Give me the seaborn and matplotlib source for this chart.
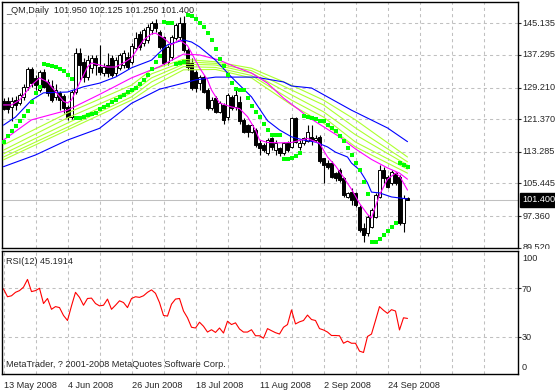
import matplotlib
matplotlib.use("Agg")
import numpy as np
import seaborn as sns
from matplotlib import pyplot as plt
from matplotlib.transforms import Bbox

sns.set_style("white")
plt.rcParams['font.family'] = ['Liberation Sans', 'DejaVu Sans']

# daily bars, 13 May 2008 .. 1 Oct 2008 (bar index 0..101)
opens = [125.9, 125.8, 124.5, 126.1, 125.3, 126.8, 129.4, 133.7, 131.5, 128.6,
         133.1, 130.7, 129.6, 126.9, 127.8, 127.0, 124.5, 122.0, 128.0, 137.7,
         135.6, 131.9, 134.0, 136.5, 134.4, 132.7, 134.8, 136.5, 132.7, 134.0,
         134.8, 136.9, 135.5, 139.0, 142.6, 140.2, 141.0, 143.5, 145.3, 143.0,
         141.8, 135.6, 136.9, 141.4, 141.8, 145.1, 138.5, 135.2, 133.1, 130.3,
         131.9, 128.6, 124.1, 126.5, 123.2, 124.9, 122.0, 126.9, 124.5, 125.7,
         121.2, 119.9, 118.3, 118.7, 115.4, 115.0, 112.9, 116.6, 113.7, 114.2,
         112.9, 115.4, 114.6, 121.6, 114.6, 115.4, 116.0, 117.0, 116.2, 117.0,
         111.7, 110.4, 110.4, 108.0, 108.8, 106.7, 102.2, 103.4, 103.0, 99.7,
         94.3, 93.1, 94.7, 97.2, 102.2, 108.8, 107.1, 105.5, 108.0, 107.1,
         95.6, 101.95]
highs = [126.6, 126.8, 126.9, 127.0, 127.9, 130.0, 134.4, 134.3, 132.3, 133.6,
         133.9, 131.3, 131.0, 130.0, 128.4, 127.5, 125.0, 128.6, 138.9, 139.0,
         136.5, 137.3, 137.3, 137.3, 139.8, 135.2, 137.7, 137.3, 136.9, 137.7,
         138.5, 138.1, 140.3, 143.0, 143.1, 144.0, 145.0, 145.8, 146.1, 143.5,
         141.9, 139.8, 142.3, 145.2, 146.8, 146.9, 139.0, 136.5, 133.6, 132.3,
         132.3, 129.0, 126.9, 127.0, 126.0, 125.3, 127.8, 127.4, 129.0, 127.0,
         121.6, 120.3, 120.3, 119.2, 116.2, 115.4, 116.6, 117.0, 116.2, 114.6,
         115.8, 116.0, 122.0, 122.0, 116.2, 117.0, 119.9, 119.9, 117.4, 117.4,
         111.7, 111.3, 110.9, 108.4, 109.2, 107.1, 103.4, 104.2, 103.4, 100.1,
         95.6, 97.6, 99.3, 103.0, 110.0, 109.6, 107.5, 108.8, 108.4, 107.5,
         102.6, 102.125]
lows = [123.6, 122.8, 120.8, 123.6, 124.8, 126.1, 128.6, 129.4, 128.6, 128.2,
        129.0, 127.0, 125.7, 126.2, 123.6, 123.0, 121.1, 121.3, 127.5, 131.1,
        130.7, 131.0, 132.7, 132.3, 132.3, 132.0, 131.9, 131.9, 132.0, 133.6,
        134.0, 133.9, 135.0, 138.5, 138.5, 139.5, 140.3, 142.6, 143.0, 138.7,
        134.8, 134.8, 136.0, 141.0, 141.0, 138.0, 133.6, 128.6, 128.2, 128.6,
        127.8, 123.6, 123.6, 122.8, 122.8, 120.3, 121.2, 123.6, 123.6, 120.3,
        117.9, 117.0, 117.9, 114.6, 112.5, 113.3, 112.5, 113.7, 112.5, 112.3,
        112.5, 113.3, 114.2, 115.4, 113.7, 115.0, 115.8, 115.0, 115.8, 110.4,
        105.5, 109.0, 106.7, 106.0, 105.9, 102.2, 101.8, 100.1, 99.7, 93.5,
        90.9, 92.3, 94.3, 96.8, 101.8, 105.5, 104.2, 105.0, 105.0, 95.2,
        93.5, 101.25]
closes = [123.8, 123.9, 126.0, 124.9, 127.3, 129.3, 133.9, 130.3, 129.8, 133.1,
          129.4, 127.8, 126.1, 128.6, 126.1, 124.1, 122.0, 128.2, 137.7, 134.8,
          131.9, 136.0, 136.6, 134.8, 133.1, 134.4, 132.7, 132.3, 136.0, 137.3,
          137.7, 134.4, 139.5, 141.5, 139.3, 143.5, 144.3, 145.3, 143.9, 139.3,
          135.2, 139.3, 141.8, 144.7, 145.1, 138.5, 134.4, 129.0, 129.0, 131.9,
          128.2, 124.1, 126.1, 123.2, 125.3, 121.2, 127.4, 124.1, 127.4, 120.8,
          118.3, 118.3, 119.9, 115.0, 114.2, 113.7, 116.2, 114.6, 115.4, 112.9,
          115.4, 113.7, 121.6, 115.8, 115.4, 116.6, 118.3, 116.2, 116.6, 110.9,
          110.0, 109.6, 107.1, 106.7, 106.3, 102.6, 103.0, 101.4, 100.1, 93.9,
          92.7, 97.2, 98.9, 102.6, 108.8, 106.7, 104.6, 108.4, 105.5, 95.6,
          101.8, 101.4]

# parabolic SAR
sar = [115.8, 117.2, 118.4, 119.8, 120.9, 122.2, 123.5, 125.6, 127.8, 129.4,
       135.0, 134.8, 134.6, 134.3, 133.8, 133.3, 132.3, 131.3, 121.6, 121.6,
       122.0, 122.4, 122.6, 123.0, 123.8, 124.3, 124.9, 125.7, 126.1, 126.8,
       127.4, 128.2, 128.6, 129.2, 130.2, 131.2, 132.3, 133.7, 135.6, 137.1,
       145.5, 145.3, 145.3, 135.0, 135.2, 135.6, 147.2, 146.9, 146.1, 145.1,
       144.1, 142.8, 141.0, 138.7, 136.4, 134.5, 132.3, 130.3, 128.8, 128.6,
       128.6, 126.5, 124.6, 123.2, 122.0, 120.2, 118.7, 117.5, 117.5, 117.5,
       111.5, 111.5, 111.8, 112.2, 112.9, 122.2, 121.8, 121.6, 121.4, 121.0,
       120.8, 119.9, 119.2, 118.4, 117.2, 115.9, 114.2, 112.5, 110.4, 108.8,
       105.9, 102.8, 90.9, 91.0, 91.6, 92.7, 93.7, 94.6, 95.7, 110.6,
       110.1, 109.4]

# moving averages at sample bars
ma_fast_x = [0, 2, 4, 7, 9, 11, 13, 15, 16, 17, 19, 21, 22, 24, 26, 28, 30, 32, 35, 37,
             38, 40, 42, 44, 46, 47, 49, 51, 52, 54, 57, 59, 61, 63, 64, 66, 69, 72, 76, 79,
             81, 83, 85, 87, 89, 91, 92, 94, 96, 98, 99, 101]
ma_fast_y = [124.9, 124.9, 126.1, 129.8, 131.6, 130.6, 128.2, 125.8, 125.4, 126.1, 130.3,
             134.3, 135.3, 134.8, 134.3, 134.3, 135.3, 136.6, 141.0, 142.5, 142.7, 141.5,
             139.8, 141.0, 139.6, 137.8, 134.1, 131.1, 128.6, 125.4, 124.4, 124.0, 122.0,
             118.7, 116.2, 115.6, 115.5, 115.6, 116.6, 115.4, 112.0, 109.8, 107.0, 104.0,
             100.5, 97.8, 96.9, 102.6, 106.5, 108.0, 107.3, 103.8]

blue_fast_x = [0, 3, 7, 10, 16, 20, 24, 28, 32, 37, 41, 45, 47, 49, 53, 57, 62, 66, 69, 72,
               75, 78, 81, 83, 86, 87, 89, 91, 92, 94, 97, 101]
blue_fast_y = [119.9, 121.9, 126.1, 127.9, 128.1, 129.4, 130.3, 131.8, 134.1, 136.0, 139.8,
               141.0, 140.5, 139.3, 136.0, 131.8, 126.9, 121.0, 118.7, 117.0, 116.2, 115.7,
               114.5, 113.2, 112.0, 110.5, 108.8, 105.6, 103.3, 103.1, 102.1, 101.6]

ma_slow_x = [0, 7, 16, 24, 32, 39, 45, 49, 54, 58, 62, 66, 70, 72, 74, 76, 80, 84, 88, 92,
             96, 99, 101]
ma_slow_y = [116.2, 121.2, 123.6, 127.5, 131.6, 134.4, 137.5, 137.3, 136.0, 134.3, 132.8,
             130.3, 126.6, 125.1, 123.6, 122.0, 119.5, 117.0, 114.0, 111.4, 109.3, 108.0,
             106.5]

blue_slow_x = [0, 8, 16, 24, 32, 39, 45, 48, 53, 58, 63, 70, 72, 77, 87, 96, 101]
blue_slow_y = [109.6, 112.5, 116.2, 119.1, 125.3, 128.8, 130.3, 131.1, 131.8, 131.8, 131.8,
               130.6, 129.6, 129.1, 123.6, 119.2, 115.8]

ribbon_x = [0, 16, 32, 37, 45, 53, 62, 72, 80, 88, 101]
ribbon_1 = [115.0, 122.9, 129.8, 133.6, 136.2, 135.6, 134.0, 129.8, 126.1, 121.2, 112.0]
ribbon_2 = [113.7, 121.7, 128.6, 132.6, 135.6, 135.2, 133.4, 128.6, 124.9, 119.2, 110.8]
ribbon_3 = [112.8, 120.4, 127.9, 131.6, 135.0, 134.8, 132.8, 127.4, 123.2, 117.5, 110.0]
ribbon_4 = [112.0, 119.4, 126.9, 130.6, 134.4, 134.2, 132.2, 126.1, 121.9, 115.7, 109.0]
ribbon_5 = [111.3, 118.7, 126.1, 129.4, 133.6, 133.7, 131.6, 124.9, 120.4, 114.5, 108.0]

rsi = [69.2, 62.8, 63.6, 66.4, 67.8, 70.6, 76.9, 67.0, 67.8, 69.7,
       57.3, 61.4, 52.6, 54.8, 54.0, 47.6, 43.5, 55.4, 66.4, 62.3,
       55.9, 61.4, 61.7, 57.3, 55.4, 55.9, 60.9, 52.6, 55.9, 59.5,
       58.1, 54.0, 61.4, 62.8, 62.3, 63.6, 66.4, 68.4, 65.6, 58.1,
       47.6, 47.1, 56.8, 60.9, 61.4, 51.2, 45.7, 38.0, 37.4, 42.1,
       38.8, 34.1, 36.0, 33.8, 37.4, 33.3, 42.9, 40.2, 41.6, 36.6,
       34.1, 34.1, 36.0, 31.1, 31.1, 29.1, 36.9, 35.2, 33.6, 32.5,
       38.0, 40.2, 52.1, 40.7, 42.4, 43.5, 47.9, 44.3, 43.5, 36.9,
       35.8, 34.1, 31.3, 31.3, 31.1, 25.0, 26.7, 25.0, 25.0, 18.6,
       17.5, 30.5, 32.5, 43.5, 54.8, 51.8, 49.3, 52.3, 51.2, 35.8,
       45.7, 45.19]

price_ticks = [145.135, 137.295, 129.210, 121.370, 113.285, 105.445, 97.360, 89.520]
date_pos = [0, 16, 32, 48, 64, 80, 96]
date_labels = ['13 May 2008', '4 Jun 2008', '26 Jun 2008', '18 Jul 2008',
               '11 Aug 2008', '2 Sep 2008', '24 Sep 2008']
last_price = 101.4

W, H = 555, 391
FS = 6.6
GRID = dict(color='#c0c0c0', linestyle=(0, (3, 3)), linewidth=0.75)


def rect(x0, y0, x1, y1):
    return [x0 / W, 1 - y1 / H, (x1 - x0) / W, (y1 - y0) / H]


fig = plt.figure(figsize=(W / 100, H / 100), dpi=100)
fig.patch.set_facecolor('white')
ax = fig.add_axes(rect(2, 2, 517.5, 248))
ax_rsi = fig.add_axes(rect(2, 251, 517.5, 374))

for a in (ax, ax_rsi):
    a.set_facecolor('white')
    a.set_xlim(-0.375, 128.5)
    for sp in a.spines.values():
        sp.set_color('black')
        sp.set_linewidth(1.0)
    a.set_axisbelow(True)

# ---- price panel
o, h, l, c = map(np.array, (opens, highs, lows, closes))
idx = np.arange(len(c))
ax.axhline(last_price, color='#c0c0c0', lw=0.75, zorder=1)
ax.vlines(idx, l, h, color='black', lw=0.8, zorder=3)
body = np.maximum(np.abs(c - o), 0.15)
ax.bar(idx, body, bottom=np.minimum(o, c), width=0.72,
       color=np.where(c >= o, 'white', 'black'), edgecolor='black',
       linewidth=0.7, zorder=3)

lw = 0.8
for ys in (ribbon_1, ribbon_2, ribbon_3, ribbon_4, ribbon_5):
    sns.lineplot(x=ribbon_x, y=ys, ax=ax, color='#adff2f', lw=lw, zorder=4)
sns.lineplot(x=blue_slow_x, y=blue_slow_y, ax=ax, color='#0000ff', lw=lw, zorder=4)
sns.lineplot(x=ma_slow_x, y=ma_slow_y, ax=ax, color='#ff00ff', lw=lw, zorder=4)
sns.lineplot(x=blue_fast_x, y=blue_fast_y, ax=ax, color='#0000ff', lw=lw, zorder=4)
sns.lineplot(x=ma_fast_x, y=ma_fast_y, ax=ax, color='#ff00ff', lw=lw, zorder=4)
sns.scatterplot(x=idx, y=sar, ax=ax, marker='s', s=7.5, color='#00ff00',
                linewidth=0, zorder=5)

ax.set_ylim(89.45, 150.41)
ax.set_xticks(np.arange(8, 121, 8))
ax.set_yticks(price_ticks)
ax.yaxis.tick_right()
ax.tick_params(axis='x', length=0, labelbottom=False)
ax.tick_params(axis='y', direction='out', length=2.5, width=0.8, labelright=False)
ax.grid(True, **GRID)
ax.set_xlabel('')
ax.set_ylabel('')

clip = Bbox.from_extents(0, H - 248.5, W, H)
for v in price_ticks:
    t = ax.annotate(f'{v:.3f}', xy=(1, v), xycoords=ax.get_yaxis_transform(),
                    xytext=(5, 0), textcoords='offset pixels', fontsize=FS,
                    va='center', ha='left', annotation_clip=False)
    t.set_clip_box(clip)
    t.set_clip_on(True)
ax.annotate(f'{last_price:.3f}', xy=(1, last_price), xycoords=ax.get_yaxis_transform(),
            xytext=(5, 0), textcoords='offset pixels', fontsize=FS, color='white',
            va='center', ha='left', annotation_clip=False,
            bbox=dict(boxstyle='square,pad=0.25', fc='black', ec='black'))

fig.text(6 / W, 1 - 10.5 / H, '_QM,Daily  101.950 102.125 101.250 101.400',
         fontsize=FS, va='center', ha='left')

# ---- RSI panel
sns.lineplot(x=idx, y=rsi, ax=ax_rsi, color='#ff0000', lw=lw)
ax_rsi.set_ylim(0, 100)
ax_rsi.set_yticks([30, 70])
ax_rsi.yaxis.tick_right()
ax_rsi.tick_params(axis='y', direction='out', length=2.5, width=0.8, labelright=False)
ax_rsi.set_xticks(date_pos)
ax_rsi.set_xticklabels(date_labels, fontsize=FS, ha='left')
ax_rsi.set_xticks(np.arange(8, 121, 8), minor=True)
ax_rsi.tick_params(axis='x', which='major', direction='out', length=3, width=0.8, pad=2)
ax_rsi.tick_params(axis='x', which='minor', length=0)
ax_rsi.grid(True, which='both', **GRID)
ax_rsi.set_xlabel('')
ax_rsi.set_ylabel('')

for s, ypx in (('100', 258.5), ('70', 289), ('30', 337.3), ('0', 367.5)):
    fig.text(522 / W, 1 - ypx / H, s, fontsize=FS, va='center', ha='left')

fig.text(6 / W, 1 - 261.5 / H, 'RSI(12) 45.1914', fontsize=FS, va='center', ha='left')
fig.text(6 / W, 1 - 364.5 / H, 'MetaTrader, ? 2001-2008 MetaQuotes Software Corp.',
         fontsize=FS, va='center', ha='left')

fig.savefig('out.png', dpi=100)
